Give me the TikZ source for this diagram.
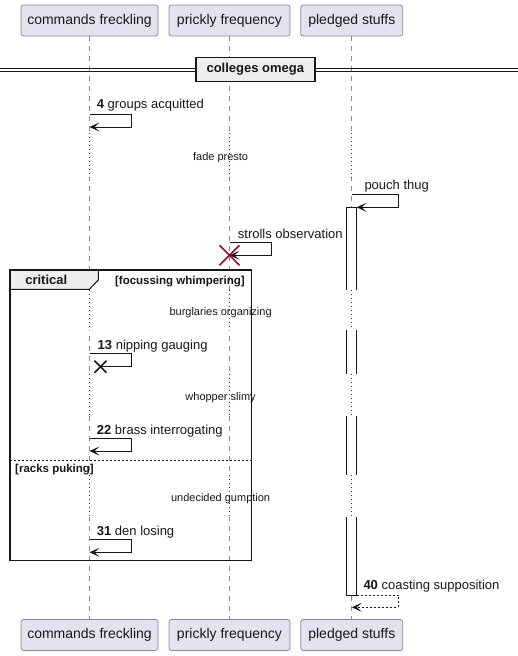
\documentclass[tikz,border=0pt]{standalone}
\usepackage{fontspec}
\setmainfont{Liberation Sans}
\usetikzlibrary{arrows.meta}
\definecolor{partfill}{HTML}{E2E2F0}
\definecolor{partdraw}{HTML}{8C8C8C}
\definecolor{lifegray}{HTML}{8C8C8C}
\definecolor{crim}{HTML}{A80036}
\definecolor{tabfill}{HTML}{EEEEEE}
\definecolor{ink}{HTML}{181818}
\tikzset{
  pbox/.style={rectangle, rounded corners=2.5pt, fill=partfill, draw=partdraw, line width=0.8pt, minimum height=31pt, inner sep=0pt, font=\fontsize{14}{16}\selectfont, text=ink},
  lifeline/.style={draw=lifegray, line width=0.8pt, dash pattern=on 5pt off 5pt},
  delayline/.style={draw=crim, line width=1pt, dash pattern=on 1pt off 3pt},
  msg/.style={draw=ink, line width=1pt, -{Stealth[length=10pt,width=9pt,inset=5pt]}},
  retmsg/.style={msg, dash pattern=on 2pt off 2pt},
  msgtext/.style={anchor=base west, inner sep=0pt, font=\fontsize{13}{15}\selectfont, text=ink},
  delaytext/.style={anchor=base, inner sep=0pt, font=\fontsize{11}{13}\selectfont, text=ink},
  guardtext/.style={inner sep=0pt, font=\fontsize{11.5}{13}\selectfont\bfseries, text=ink},
  actbox/.style={draw=ink, line width=1pt},
  xmark/.style={line width=1.6pt},
}
\begin{document}
\begin{tikzpicture}[x=1pt,y=-1pt]
\useasboundingbox (0,0) rectangle (518,656);
\fill[white] (0,0) rectangle (518,656);
% participants
\node[pbox, minimum width=137pt] (top1) at (89.5,20.5) {commands freckling};
\node[pbox, minimum width=121pt] (top2) at (229.5,20.5) {prickly frequency};
\node[pbox, minimum width=102pt] (top3) at (351.8,20.5) {pledged stuffs};
\node[pbox, minimum width=137pt] (bot1) at (89.5,635) {commands freckling};
\node[pbox, minimum width=121pt] (bot2) at (229.5,635) {prickly frequency};
\node[pbox, minimum width=102pt] (bot3) at (351.8,635) {pledged stuffs};
% lifelines
\draw[lifeline] (top1.south) -- (bot1.north);
\draw[lifeline] (top2.south) -- (bot2.north);
\draw[lifeline] (top3.south) -- (bot3.north);
\foreach \x in {89.5,229.5,351.8}{
  \foreach \a/\b in {133/178,290/330,374/416,475/517}{
    \draw[white, line width=2pt] (\x,\a) -- (\x,\b);
    \draw[delayline] (\x,\a) -- (\x,\b);
  }
}
% divider
\draw[ink, line width=1pt] (0,68.2) -- (518,68.2);
\draw[ink, line width=1pt] (0,71.2) -- (518,71.2);
\node[fill=tabfill, draw=ink, line width=1.5pt, minimum width=119pt, minimum height=24pt, inner sep=0pt, font=\fontsize{13}{15}\selectfont\bfseries, text=ink] (div) at (255.3,69.5) {colleges omega};
% message 4
\coordinate (m4a) at (89.5,114.3);
\coordinate (m4b) at (131.5,114.3);
\coordinate (m4c) at (131.5,127);
\coordinate (m4d) at (89.5,127);
\draw[msg] (m4a) -- (m4b) -- (m4c) -- (m4d);
\node[msgtext] (t4) at (96.7,108.7) {\textbf{4} groups acquitted};
% delay fade presto
\node[delaytext] (d1) at (220.6,160.5) {fade presto};
% activation on pledged stuffs
\foreach \a/\b in {207.3/290,330/374,416/475,517/595}{
  \fill[white] (346.6,\a) rectangle (356.6,\b);
  \draw[actbox] (346.6,\a) -- (346.6,\b);
  \draw[actbox] (356.6,\a) -- (356.6,\b);
}
\draw[actbox] (346.1,207.3) -- (357.1,207.3);
\draw[actbox] (346.1,595) -- (357.1,595);
% pouch thug
\coordinate (pta) at (351.8,194.3);
\coordinate (ptb) at (398.3,194.3);
\coordinate (ptc) at (398.3,207.3);
\coordinate (ptd) at (356.6,207.3);
\draw[msg] (pta) -- (ptb) -- (ptc) -- (ptd);
\node[msgtext] (tpt) at (364.3,189.5) {pouch thug};
% strolls observation + destroy
\coordinate (soa) at (229.5,242.3);
\coordinate (sob) at (271.7,242.3);
\coordinate (soc) at (271.7,255.3);
\coordinate (sod) at (229.5,255.3);
\draw[msg] (soa) -- (sob) -- (soc) -- (sod);
\node[msgtext] (tso) at (237.7,238.3) {strolls observation};
\draw[crim, xmark] (219.5,245.3) -- (239.5,265.3);
\draw[crim, xmark] (219.5,265.3) -- (239.5,245.3);
% critical frame
\draw[ink, line width=1.5pt] (10,270) rectangle (251.7,560.7);
\filldraw[fill=tabfill, draw=ink, line width=1pt] (10,270) -- (98.3,270) -- (98.3,280) -- (89.3,289.3) -- (10,289.3) -- cycle;
\draw[ink, line width=1.5pt] (10,270) rectangle (251.7,560.7);
\node[inner sep=0pt, anchor=base, font=\fontsize{13}{15}\selectfont\bfseries, text=ink] (crit) at (46.3,284.5) {critical};
\node[guardtext, anchor=base east] (g1) at (245,284.2) {[focussing whimpering]};
% burglaries organizing
\node[delaytext] (d2) at (220.6,315.5) {burglaries organizing};
% message 13 lost
\coordinate (m13a) at (89.5,353.7);
\coordinate (m13b) at (131.7,353.7);
\coordinate (m13c) at (131.7,366.7);
\coordinate (m13d) at (100.5,366.7);
\draw[ink, line width=1pt] (m13a) -- (m13b) -- (m13c) -- (m13d);
\draw[ink, xmark] ([shift={(-6,-6)}]m13d) -- ([shift={(6,6)}]m13d);
\draw[ink, xmark] ([shift={(-6,6)}]m13d) -- ([shift={(6,-6)}]m13d);
\node[msgtext] (t13) at (97.5,349) {\textbf{13} nipping gauging};
% whopper slimy
\node[delaytext] (d3) at (220.6,400) {whopper slimy};
% message 22
\coordinate (m22a) at (89.5,438.3);
\coordinate (m22b) at (131.7,438.3);
\coordinate (m22c) at (131.7,451);
\coordinate (m22d) at (89.5,451);
\draw[msg] (m22a) -- (m22b) -- (m22c) -- (m22d);
\node[msgtext] (t22) at (96.7,434) {\textbf{22} brass interrogating};
% else
\draw[ink, line width=0.8pt, dash pattern=on 2pt off 2pt] (10,460.3) -- (251.7,460.3);
\node[guardtext, anchor=base west] (g2) at (15,472.5) {[racks puking]};
% undecided gumption
\node[delaytext] (d4) at (220.6,501) {undecided gumption};
% message 31
\coordinate (m31a) at (89.5,539.3);
\coordinate (m31b) at (131.7,539.3);
\coordinate (m31c) at (131.7,552.3);
\coordinate (m31d) at (89.5,552.3);
\draw[msg] (m31a) -- (m31b) -- (m31c) -- (m31d);
\node[msgtext] (t31) at (96.7,535) {\textbf{31} den losing};
% message 40 return
\coordinate (m40a) at (356.6,595);
\coordinate (m40b) at (398.3,595);
\coordinate (m40c) at (398.3,607.3);
\coordinate (m40d) at (351.8,607.3);
\draw[retmsg] (m40a) -- (m40b) -- (m40c) -- (m40d);
\node[msgtext] (t40) at (363.3,589.4) {\textbf{40} coasting supposition};
\end{tikzpicture}
\end{document}
